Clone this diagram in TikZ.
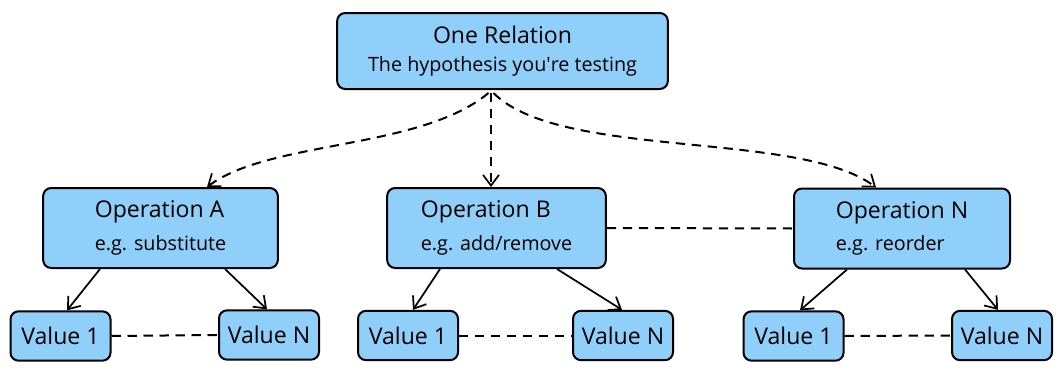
\documentclass[tikz,border=0pt]{standalone}
\usepackage{fontspec}
\setmainfont{Open Sans}
\usetikzlibrary{arrows.meta,calc}
\definecolor{boxblue}{RGB}{144,207,250}
\newcommand{\ttlfont}{\fontsize{17.3}{20}\selectfont}
\newcommand{\subfont}{\fontsize{14.8}{17}\selectfont}
\begin{document}
\begin{tikzpicture}[x=0.75pt,y=-0.75pt,
  box/.style={draw=black, fill=boxblue, line width=1.5pt, rounded corners=6pt, inner sep=0pt},
  relbox/.style={box, minimum width=248pt, minimum height=57pt, align=center},
  opbox/.style={box, minimum height=60pt, align=left},
  valbox/.style={box, minimum width=75pt, minimum height=37pt, font=\ttlfont},
  arr/.style={line width=1.3pt, -{Straight Barb[length=8pt,width=12pt,line width=1.3pt]}},
  darr/.style={arr, line width=1.5pt, dash pattern=on 7pt off 5pt},
  dsh/.style={line width=1.5pt, dash pattern=on 7pt off 5pt}]
\useasboundingbox (0,0) rectangle (1062,371);

\node[relbox] (rel) at (502.5,51) {{\ttlfont One Relation}\\[9pt]{\subfont The hypothesis you\textquotesingle re testing}};

\node[opbox, minimum width=176pt] (opa) at (160.5,228) {{\ttlfont Operation A}\\[8pt]{\subfont e.g. substitute}};
\node[opbox, minimum width=164pt] (opb) at (496.5,228) {{\ttlfont Operation B}\\[8pt]{\subfont e.g. add/remove}};
\node[opbox, minimum width=162pt] (opn) at (902,228.5) {{\ttlfont Operation N}\\[8pt]{\subfont e.g. reorder}};

\node[valbox] (va1) at (60.5,336) {Value 1};
\node[valbox] (van) at (269,335) {Value N};
\node[valbox] (vb1) at (408,335.5) {Value 1};
\node[valbox] (vbn) at (623,335.5) {Value N};
\node[valbox] (vn1) at (793.5,336) {Value 1};
\node[valbox] (vnn) at (1002,335.5) {Value N};

% top dashed arrows
\draw[darr] ($(rel.south)+(-14,3)$) .. controls (420,150) and (270,140) .. ($(opa.north)+(46.5,0)$);
\draw[darr] ($(rel.south)+(-11.5,3)$) -- ($(opb.north)+(-5.5,0)$);
\draw[darr] ($(rel.south)+(-9,3)$) .. controls (560,160) and (800,130) .. ($(opn.north)+(-26,0)$);

% B to N dashed
\draw[dsh] (opb.east) -- (opn.west);

% op to value arrows
\draw[arr] ($(opa.south)+(-60.5,0)$) -- ($(va1.north)+(6.5,0)$);
\draw[arr] ($(opa.south)+(64.5,0)$) -- ($(van.north)+(-2,0)$);
\draw[arr] ($(opb.south)+(-56.5,0)$) -- ($(vb1.north)+(5,0)$);
\draw[arr] ($(opb.south)+(60.5,0)$) -- ($(vbn.north)+(-1,0)$);
\draw[arr] ($(opn.south)+(-55,0)$) -- ($(vn1.north)+(6.5,0)$);
\draw[arr] ($(opn.south)+(63,0)$) -- ($(vnn.north)+(-4,0)$);

% value dashed links
\draw[dsh] (va1.east) -- (van.west);
\draw[dsh] (vb1.east) -- (vbn.west);
\draw[dsh] (vn1.east) -- (vnn.west);
\end{tikzpicture}
\end{document}
